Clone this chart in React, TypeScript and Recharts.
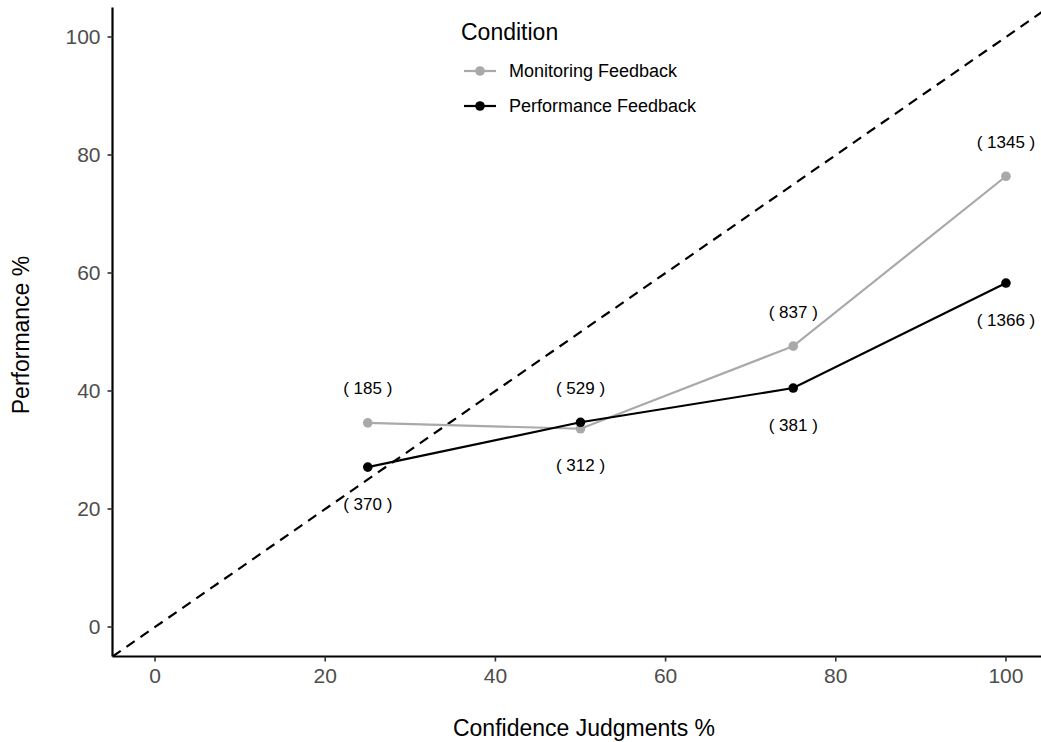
import React from 'react';
import { LineChart, Line, XAxis, YAxis, ReferenceLine, LabelList } from 'recharts';

const confidence = [25, 50, 75, 100];
const monitoring = [34.6, 33.6, 47.6, 76.4];
const performance = [27.1, 34.7, 40.5, 58.3];
const monitoringN = [185, 312, 837, 1345];
const performanceN = [370, 529, 381, 1366];
const axisTicks = [0, 20, 40, 60, 80, 100];

const FONT = '"Liberation Sans", Arial, Helvetica, sans-serif';
const GREY = '#A9A9A9';

const data = confidence.map((c, i) => ({
  conf: c,
  monitoring: monitoring[i],
  performance: performance[i],
  nMon: monitoringN[i],
  nPerf: performanceN[i],
}));

// label goes above the point when this series is the higher one, below otherwise
function countLabel(own: number[], other: number[]) {
  return (props: any) => {
    const { x, y, value, index } = props;
    const above = own[index] > other[index];
    return (
      <text
        x={x}
        y={above ? y - 34 : y + 37}
        textAnchor="middle"
        dominantBaseline="central"
        fontSize={17}
        fontFamily={FONT}
        fill="#000"
      >
        {`( ${value} )`}
      </text>
    );
  };
}

const legendItems = [
  { name: 'Monitoring Feedback', color: GREY, y: 71 },
  { name: 'Performance Feedback', color: '#000', y: 106 },
];

function ConditionLegend() {
  return (
    <g>
      <text x={461} y={32} dominantBaseline="central" fontSize={23} fontFamily={FONT} fill="#000">
        Condition
      </text>
      {legendItems.map((it) => (
        <g key={it.name}>
          <line x1={464} x2={496} y1={it.y} y2={it.y} stroke={it.color} strokeWidth={2.2} />
          <circle cx={480} cy={it.y} r={4.8} fill={it.color} />
          <text x={509} y={it.y} dominantBaseline="central" fontSize={18} fontFamily={FONT} fill="#000">
            {it.name}
          </text>
        </g>
      ))}
    </g>
  );
}

export default function App() {
  const tickStyle = { fill: '#4D4D4D', fontSize: 21, fontFamily: FONT };
  return (
    <div style={{ position: 'fixed', left: 0, top: 0, width: 1041, height: 742, overflow: 'hidden', background: '#fff' }}>
      <LineChart
        width={1100}
        height={742}
        data={data}
        margin={{ top: 7.5, right: 51.5, bottom: 35.5, left: 60 }}
      >
        <XAxis
          dataKey="conf"
          type="number"
          domain={[-5, 105]}
          ticks={axisTicks}
          allowDataOverflow
          height={50}
          tick={tickStyle}
          tickSize={5}
          tickMargin={7}
          axisLine={{ stroke: '#000', strokeWidth: 2.2 }}
          tickLine={{ stroke: '#333', strokeWidth: 1.6 }}
        />
        <YAxis
          type="number"
          domain={[-5, 105]}
          ticks={axisTicks}
          allowDataOverflow
          width={52.5}
          tick={tickStyle}
          tickSize={5}
          tickMargin={7}
          axisLine={{ stroke: '#000', strokeWidth: 2.2 }}
          tickLine={{ stroke: '#333', strokeWidth: 1.6 }}
        />
        <ReferenceLine
          segment={[{ x: -5, y: -5 }, { x: 105, y: 105 }]}
          stroke="#000"
          strokeWidth={2.2}
          strokeDasharray="10 7"
          ifOverflow="hidden"
        />
        <Line
          dataKey="monitoring"
          stroke={GREY}
          strokeWidth={2.2}
          dot={{ r: 4.8, fill: GREY, stroke: GREY, strokeWidth: 0 }}
          isAnimationActive={false}
        >
          <LabelList dataKey="nMon" content={countLabel(monitoring, performance)} />
        </Line>
        <Line
          dataKey="performance"
          stroke="#000"
          strokeWidth={2.2}
          dot={{ r: 4.8, fill: '#000', stroke: '#000', strokeWidth: 0 }}
          isAnimationActive={false}
        >
          <LabelList dataKey="nPerf" content={countLabel(performance, monitoring)} />
        </Line>
      </LineChart>
      <svg width={1041} height={742} style={{ position: 'absolute', left: 0, top: 0, pointerEvents: 'none' }}>
        <ConditionLegend />
        <text x={584} y={728} textAnchor="middle" dominantBaseline="central" fontSize={23} fontFamily={FONT} fill="#000">
          Confidence Judgments %
        </text>
        <text
          x={21}
          y={335}
          textAnchor="middle"
          dominantBaseline="central"
          fontSize={23}
          fontFamily={FONT}
          fill="#000"
          transform="rotate(-90 21 335)"
        >
          Performance %
        </text>
      </svg>
    </div>
  );
}
